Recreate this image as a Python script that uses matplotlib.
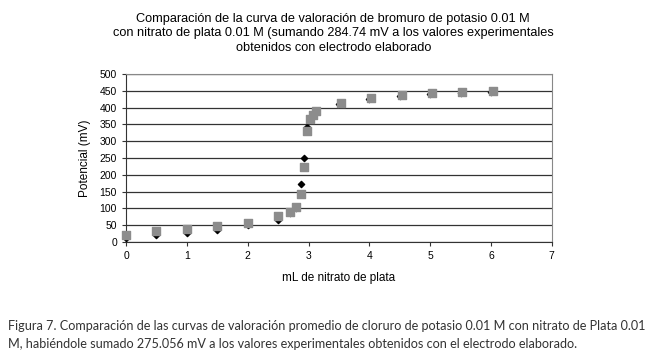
import matplotlib.pyplot as plt

# black diamonds (partly hidden behind the squares)
x_diam = [0, 0.5, 1, 1.5, 2, 2.5, 2.7, 2.8, 2.88, 2.92, 2.97, 3.03, 3.1, 3.5, 4, 4.5, 5, 5.5, 6]
y_diam = [12, 20, 27, 37, 50, 67, 86, 100, 172, 251, 343, 366, 380, 410, 424, 434, 439, 444, 447]

# gray squares
x_sq = [0, 0.5, 1, 1.5, 2, 2.5, 2.7, 2.8, 2.88, 2.92, 2.98, 3.02, 3.07, 3.13, 3.53, 4.02, 4.53, 5.03, 5.53, 6.03]
y_sq = [21, 33, 39, 48, 58, 77, 89, 105, 143, 224, 331, 365, 378, 391, 412, 427, 437, 442, 447, 450]

title = ('Comparación de la curva de valoración de bromuro de potasio 0.01 M\n'
         'con nitrato de plata 0.01 M (sumando 284.74 mV a los valores experimentales\n'
         'obtenidos con electrodo elaborado')
caption = ('Figura 7. Comparación de las curvas de valoración promedio de cloruro de potasio 0.01 M con nitrato de Plata 0.01\n'
           'M, habiéndole sumado 275.056 mV a los valores experimentales obtenidos con el electrodo elaborado.')

plt.rcParams['font.family'] = ['Liberation Sans', 'DejaVu Sans']

fig = plt.figure(figsize=(6.6, 3.57), dpi=100)
ax = fig.add_axes([0.191, 0.322, 0.645, 0.471])

ax.scatter(x_diam, y_diam, marker='D', s=10, color='black', zorder=3, clip_on=False)
ax.scatter(x_sq, y_sq, marker='s', s=26, color='#8c8c8c', zorder=4, clip_on=False)

ax.set_xlim(0, 7)
ax.set_ylim(0, 500)
ax.set_xticks(range(0, 8))
ax.set_yticks(range(0, 501, 50))
ax.yaxis.grid(True, color='#333333', linewidth=0.9)
ax.set_axisbelow(True)
for side in ['left', 'bottom']:
    ax.spines[side].set_color('#333333')
for side in ['right', 'top']:
    ax.spines[side].set_color('#888888')
ax.tick_params(labelsize=7.5, length=3, direction='out', color='#333333')

ax.set_xlabel('mL de nitrato de plata', fontsize=8.5, labelpad=8)
ax.set_ylabel('Potencial (mV)', fontsize=8.5, labelpad=6)

fig.text(0.505, 0.963, title, ha='center', va='top', fontsize=9.2, linespacing=1.25)
fig.text(0.012, 0.105, caption, ha='left', va='top', fontsize=9.1, color='#333333',
         family=['Lato', 'DejaVu Sans'], linespacing=1.6)

fig.savefig('out.png', dpi=100)
